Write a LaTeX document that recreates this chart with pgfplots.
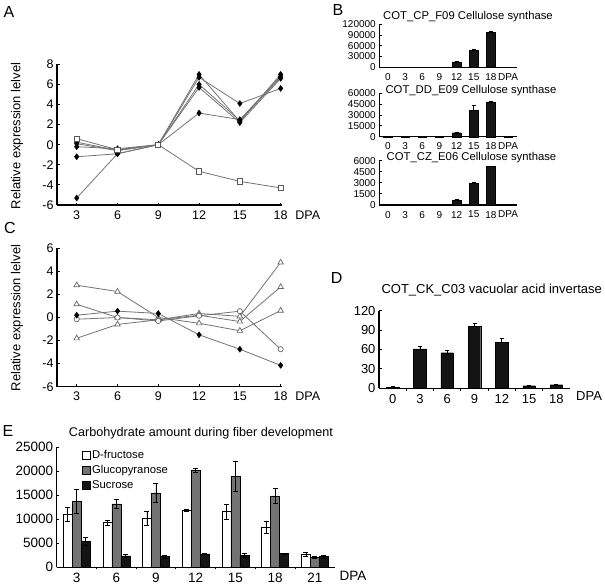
\documentclass[border=0pt]{standalone}
\usepackage{fontspec}
\setmainfont{Liberation Sans}
\usepackage{pgfplots}
\pgfplotsset{compat=1.18}
\newcommand{\fs}[1]{\fontsize{#1}{#1}\selectfont}

\pgfplotsset{
  panel/.style={scale only axis, anchor=south west, clip=false,
    axis x line*=bottom, axis y line*=left,
    x axis line style={-}, y axis line style={-},
    axis line style={black, line width=1.1pt},
    tick style={black, line width=0.9pt},
    tick align=inside, major tick length=2.5pt, minor tick length=2.5pt,
    scaled y ticks=false, scaled x ticks=false,
    /pgf/number format/assume math mode=true,
  },
  linepanel/.style={panel, width=225pt, xmin=1.55, xmax=18.1,
    xtick={3,6,9,12,15,18}, xticklabels={3,6,9,12,15,18},
    tick label style={font=\fs{12.5}},
    xticklabel style={yshift=-2pt},
  },
  ser/.style={black!55, line width=0.8pt, mark=diamond*, mark size=3pt,
    mark options={fill=black, draw=black, line width=0.4pt}},
  sq/.style={black!55, line width=0.8pt, mark=square*, mark size=2.6pt,
    mark options={fill=white, draw=black!65, line width=0.8pt}},
  tri/.style={black!55, line width=0.8pt, mark=triangle*, mark size=3.2pt,
    mark options={fill=white, draw=black!60, line width=0.7pt}},
  circ/.style={black!55, line width=0.8pt, mark=*, mark size=2.6pt,
    mark options={fill=white, draw=black!60, line width=0.7pt}},
  bpanel/.style={panel, width=137.4pt, xmin=-0.5, xmax=7.5, ymin=0,
    xtick={0,...,7}, xticklabels={0,3,6,9,12,15,18,DPA},
    major x tick style={draw=none},
    tick label style={font=\fs{10}},
    ybar, bar width=8.5pt,
  },
  bbar/.style={fill=black!92, draw=black, line width=0.4pt,
    error bars/.cd, y dir=plus, y explicit,
    error bar style={black, line width=0.6pt},
    error mark options={rotate=90, black, mark size=2pt, line width=0.6pt}},
}

\begin{document}
\begin{tikzpicture}
\path[use as bounding box] (0pt,0pt) rectangle (605pt,-586pt);

% ---------------- Panel A ----------------
\begin{axis}[linepanel, at={(57pt,-205pt)}, height=140.7pt,
  ymin=-6, ymax=8, ytick={-6,-4,...,8}, yticklabels={-6,-4,-2,0,2,4,6,8}]
\addplot[ser] coordinates {(3,0.25)(6,-0.55)(9,0)(12,7.0)(15,2.3)(18,7.0)};
\addplot[ser] coordinates {(3,-0.2)(6,-0.4)(9,0)(12,6.7)(15,4.1)(18,5.6)};
\addplot[ser] coordinates {(3,-1.2)(6,-0.9)(9,0)(12,6.0)(15,2.4)(18,6.7)};
\addplot[ser] coordinates {(3,-5.3)(6,-0.9)(9,0)(12,5.7)(15,2.2)(18,6.6)};
\addplot[ser] coordinates {(3,0.1)(6,-0.6)(9,0)(12,3.15)(15,2.5)(18,6.8)};
\addplot[sq] coordinates {(3,0.6)(6,-0.5)(9,0)(12,-2.65)(15,-3.65)(18,-4.3)};
\node[anchor=north, font=\fs{12.5}, yshift=-2pt] at (axis cs:20,-6) {DPA};
\end{axis}
\node[rotate=90, font=\fs{13}] at (17pt,-136pt) {Relative expression lelvel};
\node[font=\fs{16}] at (9pt,-12pt) {A};

% ---------------- Panel C ----------------
\begin{axis}[linepanel, at={(57pt,-386.7pt)}, height=138.4pt,
  ymin=-6, ymax=6, ytick={-6,-4,...,6}, yticklabels={-6,-4,-2,0,2,4,6}]
\addplot[tri] coordinates {(3,2.8)(6,2.25)(9,0)(12,-0.5)(15,-1.15)(18,0.6)};
\addplot[tri] coordinates {(3,1.15)(6,0)(9,-0.2)(12,0.35)(15,0.1)(18,4.77)};
\addplot[tri] coordinates {(3,-1.8)(6,-0.6)(9,-0.2)(12,0.2)(15,-0.35)(18,2.65)};
\addplot[circ] coordinates {(3,-0.15)(6,0)(9,-0.3)(12,0.15)(15,0.55)(18,-2.75)};
\addplot[ser] coordinates {(3,0.2)(6,0.55)(9,0.35)(12,-1.5)(15,-2.75)(18,-4.15)};
\node[anchor=north, font=\fs{12.5}, yshift=-2pt] at (axis cs:20,-6) {DPA};
\end{axis}
\node[rotate=90, font=\fs{13}] at (17pt,-318pt) {Relative expression lelvel};
\node[font=\fs{16}] at (10pt,-228pt) {C};

% ---------------- Panel B ----------------
\node[font=\fs{16}] at (338pt,-9.5pt) {B};
\begin{axis}[bpanel, at={(379.3pt,-67.3pt)}, height=43pt, ymax=120000,
  ytick={0,30000,60000,90000,120000}, yticklabels={0,30000,60000,90000,120000}]
\addplot[bbar] table[x=x, y=y, y error=e] {
x y e
0 0 0
1 500 0
2 0 0
3 0 0
4 15000 800
5 47000 2000
6 98000 2000
7 0 0
};
\end{axis}
\node[font=\fs{11.3}] at (468pt,-16.7pt) {COT\_CP\_F09 Cellulose synthase};

\begin{axis}[bpanel, at={(379.3pt,-136.7pt)}, height=43.4pt, ymax=60000,
  ytick={0,15000,30000,45000,60000}, yticklabels={0,15000,30000,45000,60000}]
\addplot[bbar] table[x=x, y=y, y error=e] {
x y e
0 150 0
1 100 0
2 200 0
3 100 0
4 5500 300
5 36500 6500
6 48000 600
7 100 0
};
\end{axis}
\node[font=\fs{11.3}] at (471pt,-91pt) {COT\_DD\_E09 Cellulose synthase};

\begin{axis}[bpanel, at={(379.3pt,-205pt)}, height=44.3pt, ymax=6000,
  ytick={0,1500,3000,4500,6000}, yticklabels={0,1500,3000,4500,6000}]
\addplot[bbar] table[x=x, y=y, y error=e] {
x y e
0 80 0
1 70 0
2 40 0
3 60 0
4 650 80
5 2900 120
6 5200 100
7 100 0
};
\end{axis}
\node[font=\fs{11.3}] at (471.5pt,-157.7pt) {COT\_CZ\_E06 Cellulose synthase};

% ---------------- Panel D ----------------
\node[font=\fs{16}] at (336.7pt,-278pt) {D};
\node[font=\fs{13}] at (491.7pt,-290pt) {COT\_CK\_C03 vacuolar acid invertase};
\begin{axis}[panel, at={(379pt,-388.3pt)}, width=191pt, height=77.6pt,
  xmin=-0.5, xmax=6.5, ymin=0, ymax=120,
  xtick={0,...,6}, xticklabels={0,3,6,9,12,15,18},
  minor xtick={0.5,1.5,...,5.5},
  major x tick style={draw=none},
  ytick={0,30,60,90,120}, yticklabels={0,30,60,90,120},
  tick label style={font=\fs{13}},
  ybar, bar width=12.5pt]
\addplot[bbar] table[x=x, y=y, y error=e] {
x y e
0 2 0.5
1 61 4
2 55 4
3 96 4
4 71 6
5 4 0
6 5.5 0
};
\node[anchor=north, font=\fs{13}] at (axis cs:7.2,0) {DPA};
\end{axis}

% ---------------- Panel E ----------------
\node[font=\fs{16}] at (8pt,-431pt) {E};
\node[font=\fs{12.6}] at (201pt,-433pt) {Carbohydrate amount during fiber development};
\begin{axis}[panel, at={(56.7pt,-567.3pt)}, width=278pt, height=120pt,
  xmin=-0.5, xmax=6.5, ymin=0, ymax=25000,
  xtick={0,...,6}, xticklabels={3,6,9,12,15,18,21},
  minor xtick={0.5,1.5,...,5.5}, minor tick length=2pt,
  major x tick style={draw=none},
  ytick={0,5000,10000,15000,20000,25000},
  yticklabels={0,5000,10000,15000,20000,25000},
  tick label style={font=\fs{13.5}},
  ybar=0pt, bar width=9pt,
  area legend,
  legend image code/.code={\draw[#1] (0pt,-4pt) rectangle (8pt,4pt);},
  legend style={at={(rel axis cs:0.085,1.0)}, anchor=north west, draw=none,
    fill=none, font=\fs{11.3}, row sep=1.5pt, inner sep=1pt},
  legend cell align=left,
  error bars/y dir=both, error bars/y explicit,
  error bars/error bar style={black, line width=0.6pt},
  error bars/error mark options={rotate=90, black, mark size=2.5pt, line width=0.6pt}]
\addplot[fill=white, draw=black, line width=0.5pt] table[x=x, y=y, y error=e] {
x y e
0 11000 1500
1 9300 500
2 10200 1400
3 11900 200
4 11600 1500
5 8300 1200
6 2700 350
};
\addplot[fill=black!55, draw=black, line width=0.5pt] table[x=x, y=y, y error=e] {
x y e
0 13700 2500
1 13200 1000
2 15500 2000
3 20200 500
4 18900 3100
5 14900 1500
6 2000 200
};
\addplot[fill=black!92, draw=black, line width=0.5pt] table[x=x, y=y, y error=e] {
x y e
0 5400 900
1 2400 250
2 2200 250
3 2800 100
4 2500 350
5 2900 100
6 2200 250
};
\legend{D-fructose, Glucopyranose, Sucrose}
\node[anchor=north, font=\fs{13.5}] at (axis cs:6.96,0) {DPA};
\end{axis}
\end{tikzpicture}
\end{document}
